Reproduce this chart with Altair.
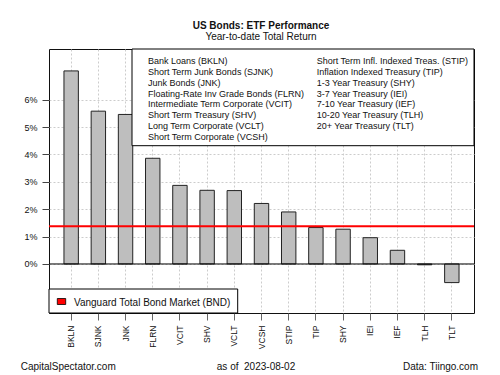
import altair as alt
import pandas as pd

# ---------------- data ----------------
tickers = ["BKLN", "SJNK", "JNK", "FLRN", "VCIT", "SHV", "VCLT", "VCSH",
           "STIP", "TIP", "SHY", "IEI", "IEF", "TLH", "TLT"]
returns = [7.05, 5.58, 5.46, 3.86, 2.87, 2.69, 2.68, 2.21,
           1.90, 1.33, 1.27, 0.96, 0.50, -0.03, -0.68]
bnd_return = [1.38]
zero_line = [0]

legend_left = ["Bank Loans (BKLN)", "Short Term Junk Bonds (SJNK)", "Junk Bonds (JNK)",
               "Floating-Rate Inv Grade Bonds (FLRN)", "Intermediate Term Corporate (VCIT)",
               "Short Term Treasury (SHV)", "Long Term Corporate (VCLT)",
               "Short Term Corporate (VCSH)"]
legend_right = ["Short Term Infl. Indexed Treas. (STIP)", "Inflation Indexed Treasury (TIP)",
                "1-3 Year Treasury (SHY)", "3-7 Year Treasury (IEI)", "7-10 Year Treasury (IEF)",
                "10-20 Year Treasury (TLH)", "20+ Year Treasury (TLT)"]
y_ticks = [0, 1, 2, 3, 4, 5, 6]

title_text = ["US Bonds: ETF Performance"]
subtitle_text = ["Year-to-date Total Return"]
bnd_label = ["Vanguard Total Bond Market (BND)"]
footer_left = ["CapitalSpectator.com"]
footer_mid = ["as of\u00a0\u00a02023-08-02"]
footer_right = ["Data: Tiingo.com"]

FONT = "Liberation Sans"

df = pd.DataFrame({"ticker": tickers, "ret": returns})
y_scale = alt.Scale(domain=[-1.79, 7.85], nice=False, zero=False)

bars = alt.Chart(df).mark_bar(fill="#bebebe", stroke="#222222", strokeWidth=1).encode(
    x=alt.X("ticker:N", sort=tickers,
            scale=alt.Scale(paddingInner=0.47, paddingOuter=0.55),
            axis=alt.Axis(title=None, labelAngle=270, labelAlign="right",
                          labelBaseline="middle", labelFontSize=8.5, labelPadding=5,
                          labelColor="#111111", tickSize=7, tickColor="#666666",
                          domain=False, grid=True, gridDash=[2, 2], gridColor="#cccccc",
                          labelFont=FONT)),
    y=alt.Y("ret:Q", scale=y_scale,
            axis=alt.Axis(title=None, values=y_ticks, labelExpr="datum.value + '%'",
                          tickSize=7, tickColor="#444444", domain=False, grid=True,
                          gridDash=[2, 2], gridColor="#cccccc", labelFontSize=9,
                          labelPadding=5, labelColor="#111111", labelFont=FONT)),
)

zero = alt.Chart(pd.DataFrame({"v": zero_line})).mark_rule(color="black", strokeWidth=1).encode(
    y=alt.Y("v:Q", scale=y_scale, axis=None))

bnd = alt.Chart(pd.DataFrame({"v": bnd_return})).mark_rule(color="red", strokeWidth=2).encode(
    y=alt.Y("v:Q", scale=y_scale, axis=None))

one = pd.DataFrame({"a": [0]})

top_box = alt.Chart(one).mark_rect(fill="white", stroke="black", strokeWidth=1).encode(
    x=alt.value(83), x2=alt.value(425), y=alt.value(0), y2=alt.value(96.7))

leg_df = pd.DataFrame({
    "label": legend_left + legend_right,
    "col": [0] * len(legend_left) + [1] * len(legend_right),
    "row": list(range(len(legend_left))) + list(range(len(legend_right))),
})
leg_text = alt.Chart(leg_df).mark_text(align="left", baseline="middle", fontSize=9,
                                        font=FONT, color="#111111").encode(
    x=alt.X("col:Q", scale=alt.Scale(domain=[0, 1], range=[99, 267.7]), axis=None),
    y=alt.Y("row:Q", scale=alt.Scale(domain=[0, 7], range=[12, 88]), axis=None),
    text="label:N")

bot_box = alt.Chart(one).mark_rect(fill="white", stroke="black", strokeWidth=1).encode(
    x=alt.value(0), x2=alt.value(188.7), y=alt.value(240), y2=alt.value(264))
red_key = alt.Chart(one).mark_rect(fill="red", stroke="black", strokeWidth=0.8).encode(
    x=alt.value(8.3), x2=alt.value(16.7), y=alt.value(249.5), y2=alt.value(255.5))
bnd_text = alt.Chart(pd.DataFrame({"t": bnd_label})).mark_text(
    align="left", baseline="middle", fontSize=10, font=FONT, color="#111111").encode(
    x=alt.value(25), y=alt.value(253.5), text="t:N")


def label(vals, x, y, align="center", size=10, weight="normal"):
    return alt.Chart(pd.DataFrame({"t": vals})).mark_text(
        align=align, baseline="middle", fontSize=size, font=FONT, fontWeight=weight,
        color="#111111").encode(x=alt.value(x), y=alt.value(y), text="t:N")


title = label(title_text, 212, -23.3, size=10, weight="bold")
subtitle = label(subtitle_text, 212, -12.3, size=10)
f_left = label(footer_left, -28.3, 317.7, align="left")
f_mid = label(footer_mid, 207, 317.7)
f_right = label(footer_right, 429, 317.7, align="right")

chart = alt.layer(
    bars, zero, bnd, top_box, leg_text, bot_box, red_key, bnd_text,
    title, subtitle, f_left, f_mid, f_right
).resolve_scale(x="independent", y="independent").properties(
    width=425, height=264,
    padding={"left": 49, "top": 49, "right": 26, "bottom": 62},
    autosize="none",
).configure_view(stroke="#111111", strokeWidth=1)

chart.save("out.html", embed_options={"renderer": "svg", "actions": False})
